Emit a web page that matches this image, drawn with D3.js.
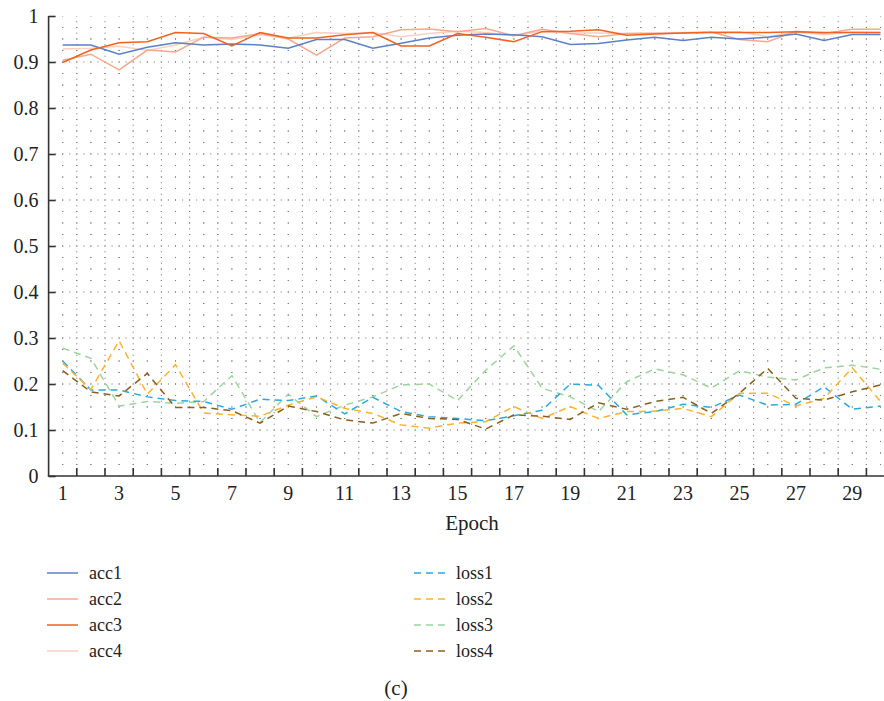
<!DOCTYPE html>
<html><head><meta charset="utf-8">
<script src="https://cdn.jsdelivr.net/npm/d3@7"></script>
<style>body{margin:0;background:#fff}svg{display:block}</style>
</head><body><svg id="c" width="884" height="701" font-family="Liberation Serif"></svg>
<script>
const epochs = d3.range(1, 31);
const xTickLabels = [1,3,5,7,9,11,13,15,17,19,21,23,25,27,29];
const yTickLabels = [0,0.1,0.2,0.3,0.4,0.5,0.6,0.7,0.8,0.9,1];

const acc1 = [0.937,0.937,0.917,0.932,0.942,0.937,0.939,0.937,0.930,0.949,0.949,0.930,0.941,0.952,0.958,0.961,0.959,0.955,0.938,0.940,0.948,0.954,0.947,0.954,0.950,0.954,0.961,0.947,0.960,0.960];
const acc2 = [0.904,0.917,0.883,0.926,0.922,0.954,0.952,0.962,0.950,0.915,0.952,0.955,0.970,0.972,0.966,0.973,0.957,0.971,0.962,0.955,0.962,0.962,0.963,0.965,0.949,0.944,0.967,0.962,0.971,0.971];
const acc3 = [0.899,0.926,0.942,0.944,0.964,0.962,0.935,0.964,0.952,0.952,0.959,0.964,0.935,0.935,0.962,0.954,0.944,0.966,0.967,0.970,0.958,0.961,0.963,0.964,0.964,0.964,0.966,0.964,0.964,0.964];
const acc4 = [0.928,0.930,0.934,0.925,0.937,0.954,0.949,0.959,0.952,0.964,0.962,0.964,0.955,0.962,0.967,0.964,0.957,0.967,0.963,0.963,0.962,0.963,0.964,0.965,0.966,0.955,0.965,0.959,0.965,0.964];
const loss1 = [0.250,0.187,0.187,0.172,0.164,0.162,0.145,0.167,0.164,0.174,0.135,0.171,0.140,0.129,0.125,0.120,0.131,0.143,0.200,0.197,0.133,0.140,0.156,0.149,0.176,0.154,0.156,0.194,0.145,0.152];
const loss2 = [0.245,0.188,0.294,0.178,0.242,0.137,0.133,0.130,0.154,0.172,0.147,0.136,0.111,0.104,0.115,0.118,0.151,0.125,0.151,0.125,0.140,0.141,0.147,0.129,0.180,0.180,0.152,0.169,0.235,0.162];
const loss3 = [0.278,0.256,0.152,0.162,0.158,0.162,0.218,0.116,0.178,0.129,0.154,0.172,0.198,0.200,0.164,0.230,0.283,0.191,0.172,0.140,0.205,0.233,0.220,0.191,0.229,0.215,0.209,0.235,0.241,0.232];
const loss4 = [0.229,0.183,0.174,0.223,0.149,0.149,0.142,0.115,0.152,0.140,0.122,0.115,0.136,0.125,0.123,0.102,0.133,0.130,0.123,0.159,0.145,0.162,0.171,0.136,0.180,0.234,0.169,0.165,0.183,0.198];

const seriesNames = ["acc1","acc2","acc3","acc4","loss1","loss2","loss3","loss4"];
const seriesData = [acc1,acc2,acc3,acc4,loss1,loss2,loss3,loss4];
const colors = ["#5b80c8","#f5a88e","#f0621e","#f9cfc2","#2aa9e0","#fbb22c","#9dd39f","#8a5f1e"];

const FONT = "Liberation Serif";
const svg = d3.select("#c");
const pLeft = 48.6, pTop = 16, pBottom = 476;
const step = 28.2;
const x = d3.scaleLinear().domain([0.5, 30.5]).range([pLeft, pLeft + 30*step]);
const y = d3.scaleLinear().domain([0, 1]).range([pBottom, pTop]);
const xMax = x(30.5);

// grid
const g = svg.append("g");
d3.range(1, 40).forEach(i => {
  const v = i * 0.025;
  const major = i % 4 === 0;
  const hs = major ? step/4 : step/2;
  g.append("line").attr("x1", pLeft).attr("x2", xMax).attr("y1", y(v)).attr("y2", y(v))
    .attr("stroke", "#7a7a7a").attr("stroke-width", 1)
    .attr("stroke-dasharray", `1.1,${hs-1.1}`).attr("stroke-dashoffset", 0.55);
});
d3.range(1, 31, 0.5).forEach(v => {
  const major = v % 1 !== 0;
  const vs = major ? 460/80 : 460/40;
  g.append("line").attr("x1", x(v)).attr("x2", x(v)).attr("y1", pBottom).attr("y2", pTop)
    .attr("stroke", "#7a7a7a").attr("stroke-width", 1)
    .attr("stroke-dasharray", `1.1,${vs-1.1}`).attr("stroke-dashoffset", 0.55);
});

// lines
const line = d3.line().x((d, i) => x(epochs[i])).y(d => y(d));
const order = [6,4,5,7,3,1,0,2];
order.forEach(k => {
  svg.append("path").datum(seriesData[k]).attr("d", line).attr("fill", "none")
    .attr("stroke", colors[k]).attr("stroke-width", 1.5)
    .attr("stroke-dasharray", k >= 4 ? "7,5" : null);
});

// axes
const yAxis = d3.axisLeft(y).tickValues(yTickLabels).tickSize(-7).tickPadding(10)
  .tickFormat(d => d === 0 ? "0" : d === 1 ? "1" : d3.format(".1f")(d));
const ya = svg.append("g").attr("transform", `translate(${pLeft},0)`).call(yAxis)
  .attr("font-family", FONT).attr("font-size", 20);
ya.select(".domain").attr("stroke", "#333").attr("stroke-width", 1.6).attr("d", `M0,${pTop}V${pBottom}`);
ya.selectAll(".tick line").attr("stroke", "#333").attr("stroke-width", 1.6);
ya.selectAll(".tick text").attr("font-family", FONT).attr("font-size", 20).attr("fill", "#222").attr("x", -10);

const xa = svg.append("g").attr("transform", `translate(0,${pBottom})`);
xa.append("line").attr("x1", pLeft - 0.8).attr("x2", xMax).attr("stroke", "#333").attr("stroke-width", 1.6);
xa.selectAll(".xt").data(d3.range(1.5, 30.5, 1)).enter().append("line")
  .attr("x1", d => x(d)).attr("x2", d => x(d)).attr("y1", 0).attr("y2", -8)
  .attr("stroke", "#333").attr("stroke-width", 1.6);
xa.selectAll(".xl").data(xTickLabels).enter().append("text")
  .attr("x", d => x(d)).attr("y", 24).attr("text-anchor", "middle")
  .attr("font-family", FONT).attr("font-size", 20).attr("fill", "#222").text(d => d);

svg.append("text").attr("x", 472).attr("y", 530).attr("text-anchor", "middle")
  .attr("font-family", FONT).attr("font-size", 21).attr("fill", "#222").text("Epoch");

// legend
seriesNames.forEach((n, k) => {
  const col = k < 4 ? 0 : 1, row = k % 4;
  const lx = col === 0 ? 47 : 414, ly = 573 + row * 26;
  svg.append("line").attr("x1", lx).attr("x2", lx + 31).attr("y1", ly).attr("y2", ly)
    .attr("stroke", colors[k]).attr("stroke-width", 1.5)
    .attr("stroke-dasharray", k >= 4 ? "7,5" : null);
  svg.append("text").attr("x", lx + 42).attr("y", ly + 6)
    .attr("font-family", FONT).attr("font-size", 18).attr("fill", "#222").text(n);
});

svg.append("text").attr("x", 396).attr("y", 695).attr("text-anchor", "middle")
  .attr("font-family", FONT).attr("font-size", 21).attr("fill", "#222").text("(c)");
</script></body></html>
